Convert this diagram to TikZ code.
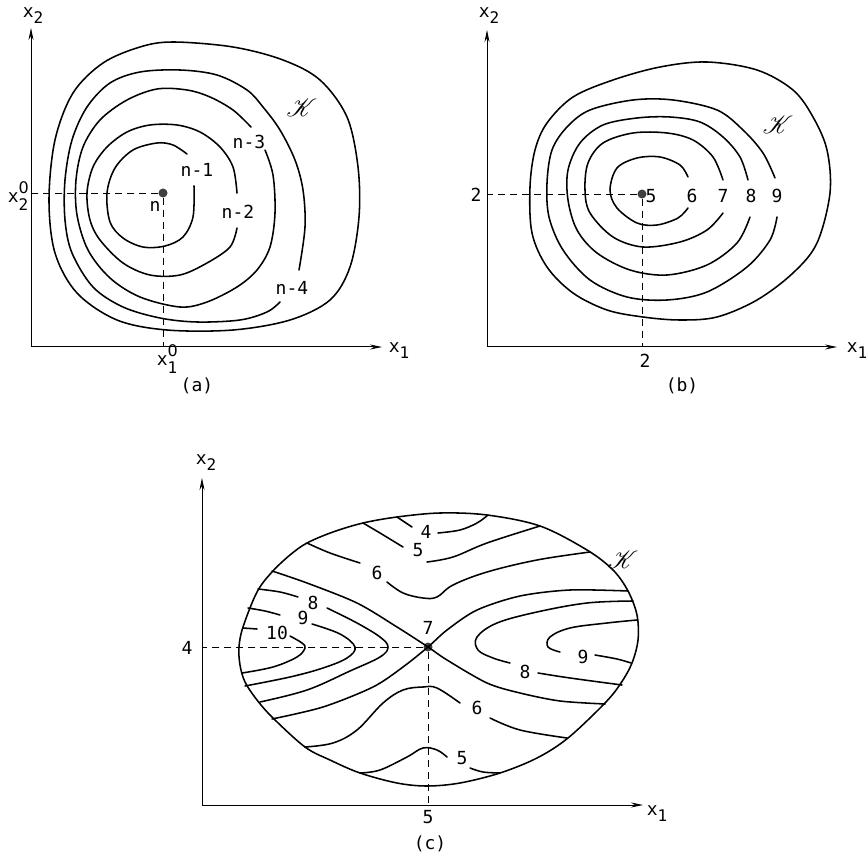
\documentclass[tikz,border=0pt]{standalone}
\usepackage{fontspec}
\usepackage{mathrsfs}
\usetikzlibrary{arrows.meta}
\newfontfamily\lblfont{DejaVu Sans Mono}
\newfontfamily\zerofont{DejaVu Sans}
\newcommand{\subd}[1]{\raisebox{-0.6ex}{\fontsize{16}{16}\selectfont #1}}
\newcommand{\supsub}[2]{\rlap{\raisebox{1.0ex}{\zerofont\fontsize{16}{16}\selectfont #2}}\raisebox{-0.8ex}{\fontsize{16}{16}\selectfont #1}}
\begin{document}
\begin{tikzpicture}[x=1pt,y=-1pt,
  cont/.style={line width=1.55pt, line cap=round, line join=round},
  axisline/.style={line width=1pt, -{Stealth[length=12pt,width=5pt]}},
  guide/.style={line width=0.9pt, dash pattern=on 7pt off 5pt},
  lbl/.style={font=\lblfont\fontsize{18}{18}\selectfont, inner sep=0pt},
  kl/.style={font=\fontsize{24}{24}\selectfont, inner sep=0pt},
  dotst/.style={circle, fill=black!75, inner sep=0pt, minimum size=9pt}]
\useasboundingbox (0,0) rectangle (867,858);
\fill[white] (0,0) rectangle (867,858);

% ================= (a) =================
\coordinate (ao) at (31,347);
\coordinate (ay) at (31,28);
\coordinate (ax) at (382,347);
\coordinate (pay) at (31,193);
\coordinate (pax) at (163,347);
\draw[axisline] (ao) -- (ay);
\draw[axisline] (ao) -- (ax);
\node[dotst] (pa) at (163,193) {};
\draw[guide] (pa) -- (pay);
\draw[guide] (pa) -- (pax);
% K
\draw[cont] plot[smooth cycle, tension=0.55] coordinates {(173,42) (233,47) (283,60) (320,80) (347,117) (358,167) (359,217) (350,267) (330,300) (290,320) (233,330) (167,330) (117,320) (77,293) (55,253) (49,200) (55,140) (73,93) (103,63) (140,47)};
% n-4
\draw[cont] plot[smooth, tension=0.55] coordinates {(299,270) (305,227) (303,190) (295,160) (280,130) (263,107) (247,90) (217,75) (180,70) (140,72) (110,83) (87,107) (72,140) (65,180) (65,220) (72,253) (93,287) (123,307) (160,318) (197,322) (240,320) (267,312) (280,302)};
% n-3
\draw[cont] plot[smooth, tension=0.55] coordinates {(265,150) (273,175) (275,213) (270,247) (257,270) (237,287) (207,302) (180,307) (140,297) (110,278) (88,250) (77,215) (76,180) (83,147) (100,120) (127,100) (157,89) (187,90) (210,97) (233,110) (251,127)};
% n-2
\draw[cont] plot[smooth, tension=0.55] coordinates {(237,193) (233,167) (220,147) (200,132) (177,125) (150,125) (127,132) (107,147) (93,167) (87,193) (90,220) (100,240) (123,263) (150,275) (180,275) (207,263) (230,247) (237,228)};
% n-1
\draw[cont] plot[smooth, tension=0.55] coordinates {(187,154) (173,145) (157,143) (133,150) (115,168) (107,193) (110,222) (123,238) (143,247) (165,246) (183,237) (193,217) (194,186)};
\node[lbl] (la2) at (33,16) {x\subd{2}};
\node[lbl] (la1) at (399,351) {x\subd{1}};
\node[lbl] (la20) at (18,196) {x\supsub{2}{0}};
\node[lbl] (la10) at (167,359) {x\supsub{1}{0}};
\node[lbl] (lacap) at (197,386) {(a)};
\node[lbl] (lan) at (155,206) {n};
\node[lbl] (lan1) at (197,170) {n-1};
\node[lbl] (lan2) at (238,212) {n-2};
\node[lbl] (lan3) at (249,142) {n-3};
\node[lbl] (lan4) at (292,288) {n-4};
\node[kl] (laK) at (302,108) {$\mathscr{K}$};

% ================= (b) =================
\coordinate (bo) at (487,347);
\coordinate (by) at (487,30);
\coordinate (bx) at (837,347);
\coordinate (pby) at (487,194);
\coordinate (pbx) at (642,347);
\draw[axisline] (bo) -- (by);
\draw[axisline] (bo) -- (bx);
\node[dotst] (pb) at (642,194) {};
\draw[guide] (pb) -- (pby);
\draw[guide] (pb) -- (pbx);
% K
\draw[cont] plot[smooth cycle, tension=0.55] coordinates {(530,187) (532,233) (547,267) (573,293) (607,310) (643,317) (680,320) (717,317) (757,300) (793,273) (817,243) (830,193) (827,150) (813,117) (793,90) (757,70) (707,62) (660,67) (613,80) (573,97) (547,123) (535,150)};
% 6
\draw[cont] plot[smooth, tension=0.55] coordinates {(688,177) (680,165) (660,157) (637,158) (617,168) (610,190) (617,208) (637,223) (657,225) (678,218) (688,208)};
% 7
\draw[cont] plot[smooth, tension=0.55] coordinates {(723,180) (713,157) (693,140) (667,133) (633,133) (603,143) (588,163) (585,190) (590,213) (613,237) (643,247) (680,242) (707,230) (723,213)};
% 8
\draw[cont] plot[smooth, tension=0.55] coordinates {(748,180) (740,157) (723,137) (700,122) (670,117) (637,118) (603,125) (580,143) (568,170) (568,200) (577,230) (597,253) (630,270) (667,275) (707,265) (737,243) (750,217)};
% 9
\draw[cont] plot[smooth, tension=0.55] coordinates {(775,178) (763,153) (743,130) (717,110) (673,100) (633,100) (590,110) (567,127) (552,150) (547,183) (549,217) (563,250) (590,280) (627,297) (667,300) (707,292) (747,267) (770,240) (777,217)};
\node[lbl] (lb2) at (489,16) {x\subd{2}};
\node[lbl] (lb1) at (857,351) {x\subd{1}};
\node[lbl] (lby) at (476,195) {2};
\node[lbl] (lbx) at (645,361) {2};
\node[lbl] (lbcap) at (682,386) {(b)};
\node[lbl] (lb5) at (651,196) {5};
\node[lbl] (lb6) at (692,196) {6};
\node[lbl] (lb7) at (723,196) {7};
\node[lbl] (lb8) at (751,196) {8};
\node[lbl] (lb9) at (777,196) {9};
\node[kl] (lbK) at (778,125) {$\mathscr{K}$};

% ================= (c) =================
\coordinate (co) at (202,805);
\coordinate (cy) at (202,478);
\coordinate (cx) at (643,805);
\coordinate (pcy) at (202,647);
\coordinate (pcx) at (428,805);
\draw[axisline] (co) -- (cy);
\draw[axisline] (co) -- (cx);
\node[dotst] (pc) at (428,647) {};
\draw[guide] (pc) -- (pcy);
\draw[guide] (pc) -- (pcx);
% K
\draw[cont] plot[smooth cycle, tension=0.55] coordinates {(239,647) (243,627) (257,592) (272,572) (290,555) (307,543) (333,532) (363,523) (397,517) (440,513) (487,515) (540,526) (587,550) (613,570) (628,591) (637,615) (638,640) (632,663) (621,683) (605,703) (568,738) (537,758) (500,773) (460,783) (427,786) (397,783) (360,773) (330,760) (305,747) (273,718) (257,700) (245,682) (240,665)};
% left 10
\draw[cont] (243,628) -- (257,629);
\draw[cont] plot[smooth, tension=0.6] coordinates {(290,636) (302,643) (305,648) (297,657) (273,667) (242,673)};
% left 9
\draw[cont] plot[smooth, tension=0.6] coordinates {(248,608) (265,611) (280,615)};
\draw[cont] plot[smooth, tension=0.6] coordinates {(312,624) (340,634) (355,647) (347,658) (323,668) (290,677) (245,686)};
% left 8
\draw[cont] plot[smooth, tension=0.6] coordinates {(258,589) (280,592) (298,597)};
\draw[cont] plot[smooth, tension=0.6] coordinates {(327,608) (357,623) (380,637) (388,647) (380,657) (350,671) (307,690) (260,702)};
% separatrices (7)
\draw[cont] plot[smooth, tension=0.5] coordinates {(272,571) (307,583) (357,603) (397,627) (428,647) (447,660) (487,683) (520,693) (560,701) (605,704)};
\draw[cont] plot[smooth, tension=0.5] coordinates {(272,719) (323,707) (373,687) (403,667) (428,647) (447,630) (477,610) (520,596) (570,590) (628,591)};
% right 8
\draw[cont] plot[smooth, tension=0.6] coordinates {(633,601) (587,603) (537,612) (497,623) (477,637) (478,650) (493,658) (510,663)};
\draw[cont] plot[smooth, tension=0.6] coordinates {(538,673) (570,678) (622,685)};
% right 9
\draw[cont] plot[smooth, tension=0.6] coordinates {(637,620) (607,623) (570,628) (550,637) (548,647) (560,652)};
\draw[cont] plot[smooth, tension=0.6] coordinates {(595,655) (617,659) (631,663)};
% upper 6
\draw[cont] plot[smooth, tension=0.6] coordinates {(307,543) (330,553) (360,563)};
\draw[cont] plot[smooth, tension=0.6] coordinates {(387,582) (403,593) (423,598) (437,597) (453,585) (487,572) (537,560) (590,552)};
% upper 5
\draw[cont] plot[smooth, tension=0.6] coordinates {(363,523) (380,533) (403,547)};
\draw[cont] plot[smooth, tension=0.6] coordinates {(427,562) (453,557) (487,543) (540,526)};
% 4
\draw[cont] plot[smooth, tension=0.6] coordinates {(397,517) (412,527)};
\draw[cont] plot[smooth, tension=0.6] coordinates {(438,533) (460,530) (477,523) (488,515)};
% lower 6
\draw[cont] plot[smooth, tension=0.6] coordinates {(305,747) (333,743) (357,730) (383,703) (403,690) (423,687) (437,688) (460,703)};
\draw[cont] plot[smooth, tension=0.6] coordinates {(490,718) (520,730) (567,738)};
% lower 5
\draw[cont] plot[smooth, tension=0.6] coordinates {(360,773) (380,770) (407,757) (423,748) (437,750) (447,757)};
\draw[cont] plot[smooth, tension=0.6] coordinates {(470,768) (483,772) (500,773)};
\node[lbl] (lc2) at (206,463) {x\subd{2}};
\node[lbl] (lc1) at (657,814) {x\subd{1}};
\node[lbl] (lcy) at (187,648) {4};
\node[lbl] (lcx) at (428,817) {5};
\node[lbl] (lccap) at (430,844) {(c)};
\node[lbl] (lc7) at (428,628) {7};
\node[lbl] (lc4) at (426,532) {4};
\node[lbl] (lc5u) at (418,550) {5};
\node[lbl] (lc6u) at (377,573) {6};
\node[lbl] (lc8l) at (313,603) {8};
\node[lbl] (lc9l) at (303,618) {9};
\node[lbl] (lc10) at (277,633) {10};
\node[lbl] (lc9r) at (583,657) {9};
\node[lbl] (lc8r) at (525,672) {8};
\node[lbl] (lc6d) at (477,708) {6};
\node[lbl] (lc5d) at (462,758) {5};
\node[kl] (lcK) at (623,560) {$\mathscr{K}$};
\end{tikzpicture}
\end{document}
